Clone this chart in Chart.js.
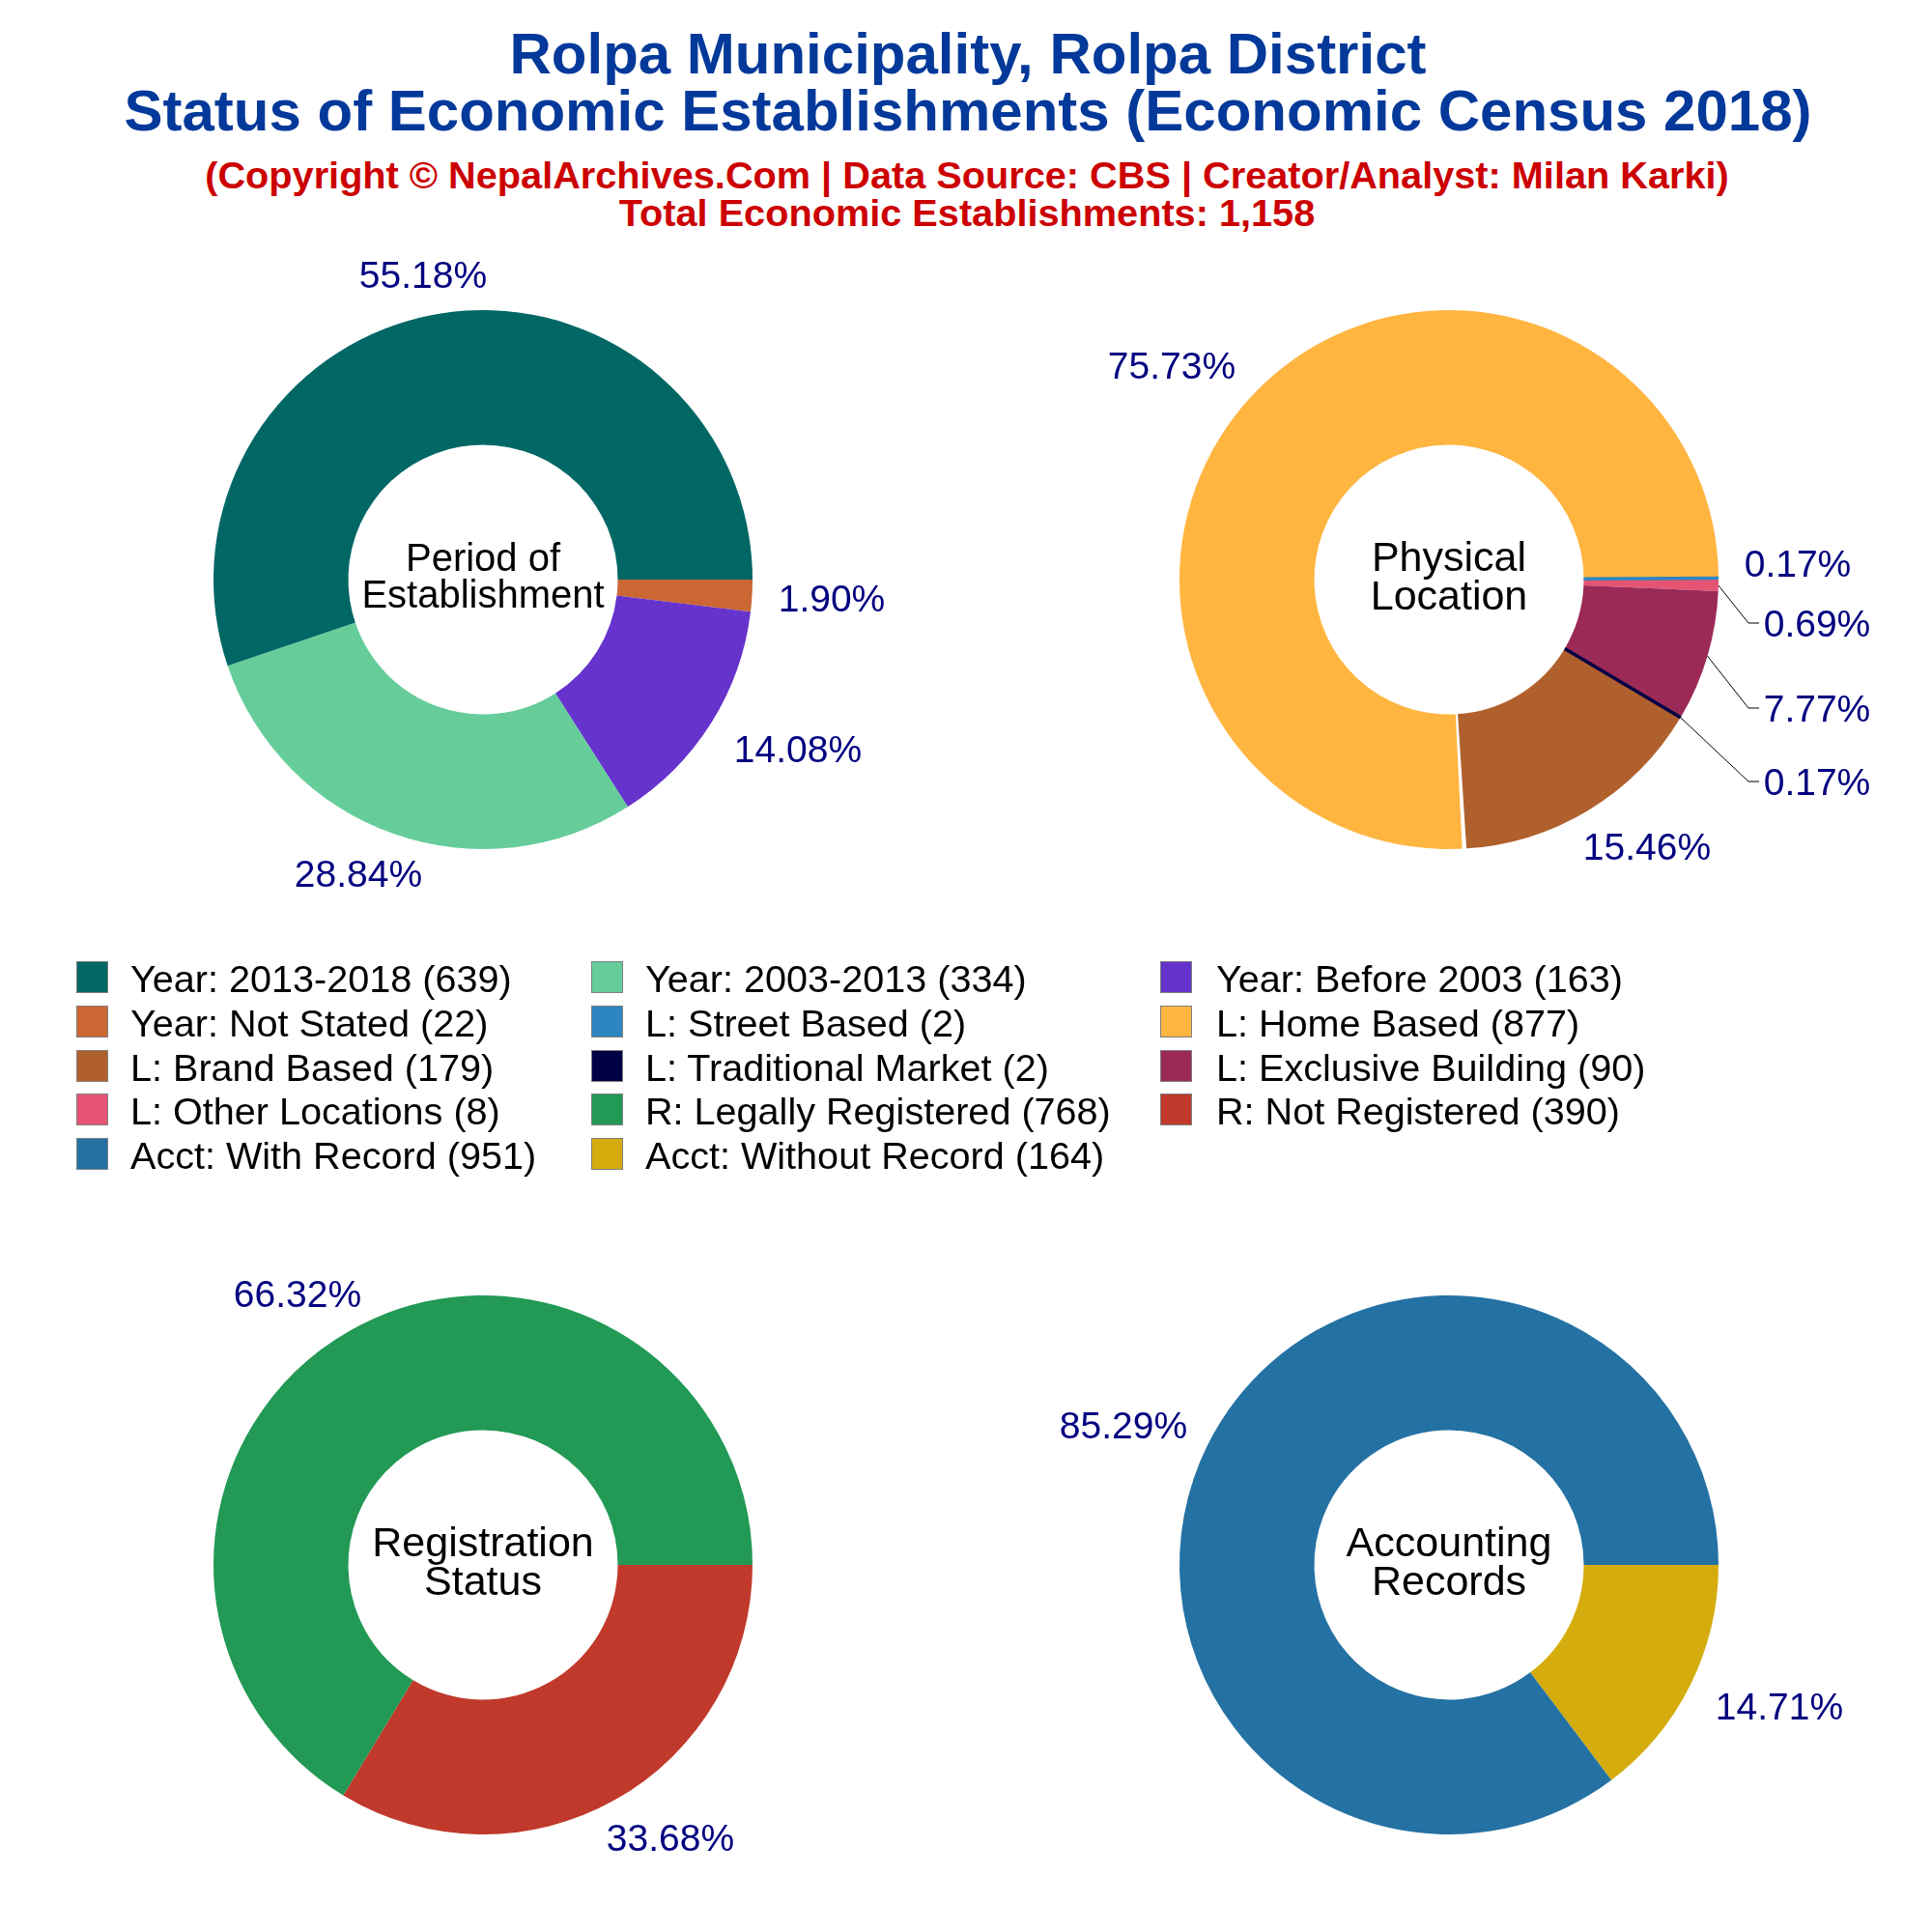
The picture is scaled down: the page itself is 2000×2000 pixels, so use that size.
<!DOCTYPE html>
<html>
<head>
<meta charset="utf-8">
<title>Rolpa Municipality</title>
<script src="https://cdn.jsdelivr.net/npm/chart.js@4"></script>
<style>
html, body { margin: 0; padding: 0; background: #fff; }
#page { position: relative; width: 2000px; height: 2000px; overflow: hidden; font-family: "Liberation Sans", Arial, sans-serif; }
.head { position: absolute; left: 0; width: 2004px; text-align: center; white-space: nowrap; font-weight: bold; }
.pie { position: absolute; width: 900px; height: 900px; }
.sw { position: absolute; width: 31px; height: 31px; border: 1px solid #7f7f7f; }
.lt { position: absolute; font-size: 39.6px; line-height: 46px; white-space: nowrap; color: #000; }
</style>
</head>
<body>
<div id="page">
  <div class="head" style="top:26px;font-size:60px;line-height:59px;color:#03399a">Rolpa Municipality, Rolpa District<br>Status of Economic Establishments (Economic Census 2018)</div>
  <div class="head" style="top:162px;left:-1px;font-size:39.7px;line-height:39px;color:#cc0000">(Copyright © NepalArchives.Com | Data Source: CBS | Creator/Analyst: Milan Karki)<br>Total Economic Establishments: 1,158</div>
  <canvas class="pie" id="c1" style="left:50px;top:150px"></canvas>
  <canvas class="pie" id="c2" style="left:1050px;top:150px"></canvas>
  <canvas class="pie" id="c3" style="left:50px;top:1170px"></canvas>
  <canvas class="pie" id="c4" style="left:1050px;top:1170px"></canvas>
  <div id="legend"></div>
</div>
<script>
// values in legend order, drawn reversed so the slices run counter-clockwise from 3 o'clock
var periodLabels = ["Year: 2013-2018", "Year: 2003-2013", "Year: Before 2003", "Year: Not Stated"];
var periodValues = [639, 334, 163, 22];
var periodColors = ["#016765", "#66CD9A", "#6633CC", "#CC6633"];

var locationLabels = ["L: Street Based", "L: Home Based", "L: Brand Based", "L: Traditional Market", "L: Exclusive Building", "L: Other Locations"];
var locationValues = [2, 877, 179, 2, 90, 8];
var locationColors = ["#2E86C1", "#FFB540", "#B0602C", "#000044", "#9B2A57", "#E55473"];

var regLabels = ["R: Legally Registered", "R: Not Registered"];
var regValues = [768, 390];
var regColors = ["#229955", "#C0392B"];

var acctLabels = ["Acct: With Record", "Acct: Without Record"];
var acctValues = [951, 164];
var acctColors = ["#2471A3", "#D4AC0D"];

// label centres relative to the pie centre, same order as the values
var periodLabelPos = [[-62, -316], [-129, 304], [326, 175], [361, 19]];
var locationLabelPos = [[361, -17], [-287, -222], [205, 276], [381, 209], [381, 133], [381, 45]];
var regLabelPos = [[-192, -281], [194, 282]];
var acctLabelPos = [[-337, -145], [342, 146]];

var locationLeaders = [false, false, false, true, true, true];

function reversed(a) {
    return a.slice().reverse();
}

var donutText = {
    id: 'donutText',
    afterDatasetsDraw: function (chart, args, opts) {
        var ctx = chart.ctx;
        var meta = chart.getDatasetMeta(0);
        var n = meta.data.length;
        var cx = meta.data[0].x, cy = meta.data[0].y, R = meta.data[0].outerRadius;
        ctx.save();
        ctx.textAlign = 'center';
        ctx.textBaseline = 'middle';

        // very thin slices get a hairline so they stay visible
        opts.values.forEach(function (v, i) {
            if (v / opts.total > 0.005) return;
            var arc = meta.data[n - 1 - i];
            var mid = (arc.startAngle + arc.endAngle) / 2;
            ctx.strokeStyle = opts.colors[i];
            ctx.lineWidth = 3.5;
            ctx.beginPath();
            ctx.moveTo(cx + Math.cos(mid) * arc.innerRadius, cy + Math.sin(mid) * arc.innerRadius);
            ctx.lineTo(cx + Math.cos(mid) * R, cy + Math.sin(mid) * R);
            ctx.stroke();
        });

        // white wedge at one slice boundary
        if (opts.seamAfter !== undefined) {
            var s = meta.data[n - 1 - opts.seamAfter];
            var a = s.startAngle;
            var d = 0.008;
            var r0 = s.innerRadius - 1, r1 = R + 1;
            ctx.fillStyle = '#fff';
            ctx.beginPath();
            ctx.moveTo(cx + Math.cos(a - d) * r0, cy + Math.sin(a - d) * r0);
            ctx.lineTo(cx + Math.cos(a - d) * r1, cy + Math.sin(a - d) * r1);
            ctx.lineTo(cx + Math.cos(a + d) * r1, cy + Math.sin(a + d) * r1);
            ctx.lineTo(cx + Math.cos(a + d) * r0, cy + Math.sin(a + d) * r0);
            ctx.closePath();
            ctx.fill();
        }

        // percent labels and leader lines
        ctx.font = '39px "Liberation Sans"';
        opts.values.forEach(function (v, i) {
            var arc = meta.data[n - 1 - i];
            var p = opts.pos[i];
            if (opts.leaders && opts.leaders[i]) {
                var mid = (arc.startAngle + arc.endAngle) / 2;
                ctx.strokeStyle = '#000';
                ctx.lineWidth = 1;
                ctx.beginPath();
                ctx.moveTo(cx + Math.cos(mid) * R, cy + Math.sin(mid) * R);
                ctx.lineTo(cx + p[0] - 71, cy + p[1]);
                ctx.lineTo(cx + p[0] - 60, cy + p[1]);
                ctx.stroke();
            }
            ctx.fillStyle = '#000080';
            ctx.fillText((v / opts.total * 100).toFixed(2) + '%', cx + p[0], cy + p[1] + 3);
        });

        // title in the hole
        ctx.fillStyle = '#000';
        ctx.font = opts.centerSize + 'px "Liberation Sans"';
        ctx.fillText(opts.center[0], cx, cy - opts.centerSize * 0.49);
        ctx.fillText(opts.center[1], cx, cy + opts.centerSize * 0.45);
        ctx.restore();
    }
};

function donut(id, values, colors, labels, center, centerSize, pos, total, leaders, seamAfter) {
    return new Chart(document.getElementById(id), {
        type: 'doughnut',
        plugins: [donutText],
        data: {
            labels: reversed(labels),
            datasets: [{
                data: reversed(values),
                backgroundColor: reversed(colors),
                borderWidth: 0
            }]
        },
        options: {
            responsive: false,
            devicePixelRatio: 1,
            animation: false,
            rotation: 90,
            cutout: '50%',
            layout: { padding: 171 },
            plugins: {
                legend: { display: false },
                tooltip: { enabled: false },
                donutText: {
                    values: values, colors: colors, pos: pos, total: total, center: center,
                    centerSize: centerSize, leaders: leaders, seamAfter: seamAfter
                }
            }
        }
    });
}

['c1', 'c2', 'c3', 'c4'].forEach(function (id) {
    var c = document.getElementById(id);
    c.width = 900;
    c.height = 900;
});

donut('c1', periodValues, periodColors, periodLabels, ["Period of", "Establishment"], 40, periodLabelPos, 1158);
donut('c2', locationValues, locationColors, locationLabels, ["Physical", "Location"], 43, locationLabelPos, 1158, locationLeaders, 1);
donut('c3', regValues, regColors, regLabels, ["Registration", "Status"], 43, regLabelPos, 1158);
donut('c4', acctValues, acctColors, acctLabels, ["Accounting", "Records"], 43, acctLabelPos, 1115);

// legend, three columns filled row by row
var legendLabels = periodLabels.concat(locationLabels, regLabels, acctLabels);
var legendValues = periodValues.concat(locationValues, regValues, acctValues);
var legendColors = periodColors.concat(locationColors, regColors, acctColors);
var colSwatch = [79, 612, 1201];
var colText = [135, 668, 1259];
var legend = document.getElementById('legend');
legendLabels.forEach(function (name, i) {
    var col = i % 3, row = Math.floor(i / 3);
    var y = 995 + row * 45.8;
    var sw = document.createElement('div');
    sw.className = 'sw';
    sw.style.left = colSwatch[col] + 'px';
    sw.style.top = y + 'px';
    sw.style.background = legendColors[i];
    legend.appendChild(sw);
    var t = document.createElement('div');
    t.className = 'lt';
    t.style.left = colText[col] + 'px';
    t.style.top = (y - 5) + 'px';
    t.textContent = name + ' (' + legendValues[i] + ')';
    legend.appendChild(t);
});
</script>
</body>
</html>
